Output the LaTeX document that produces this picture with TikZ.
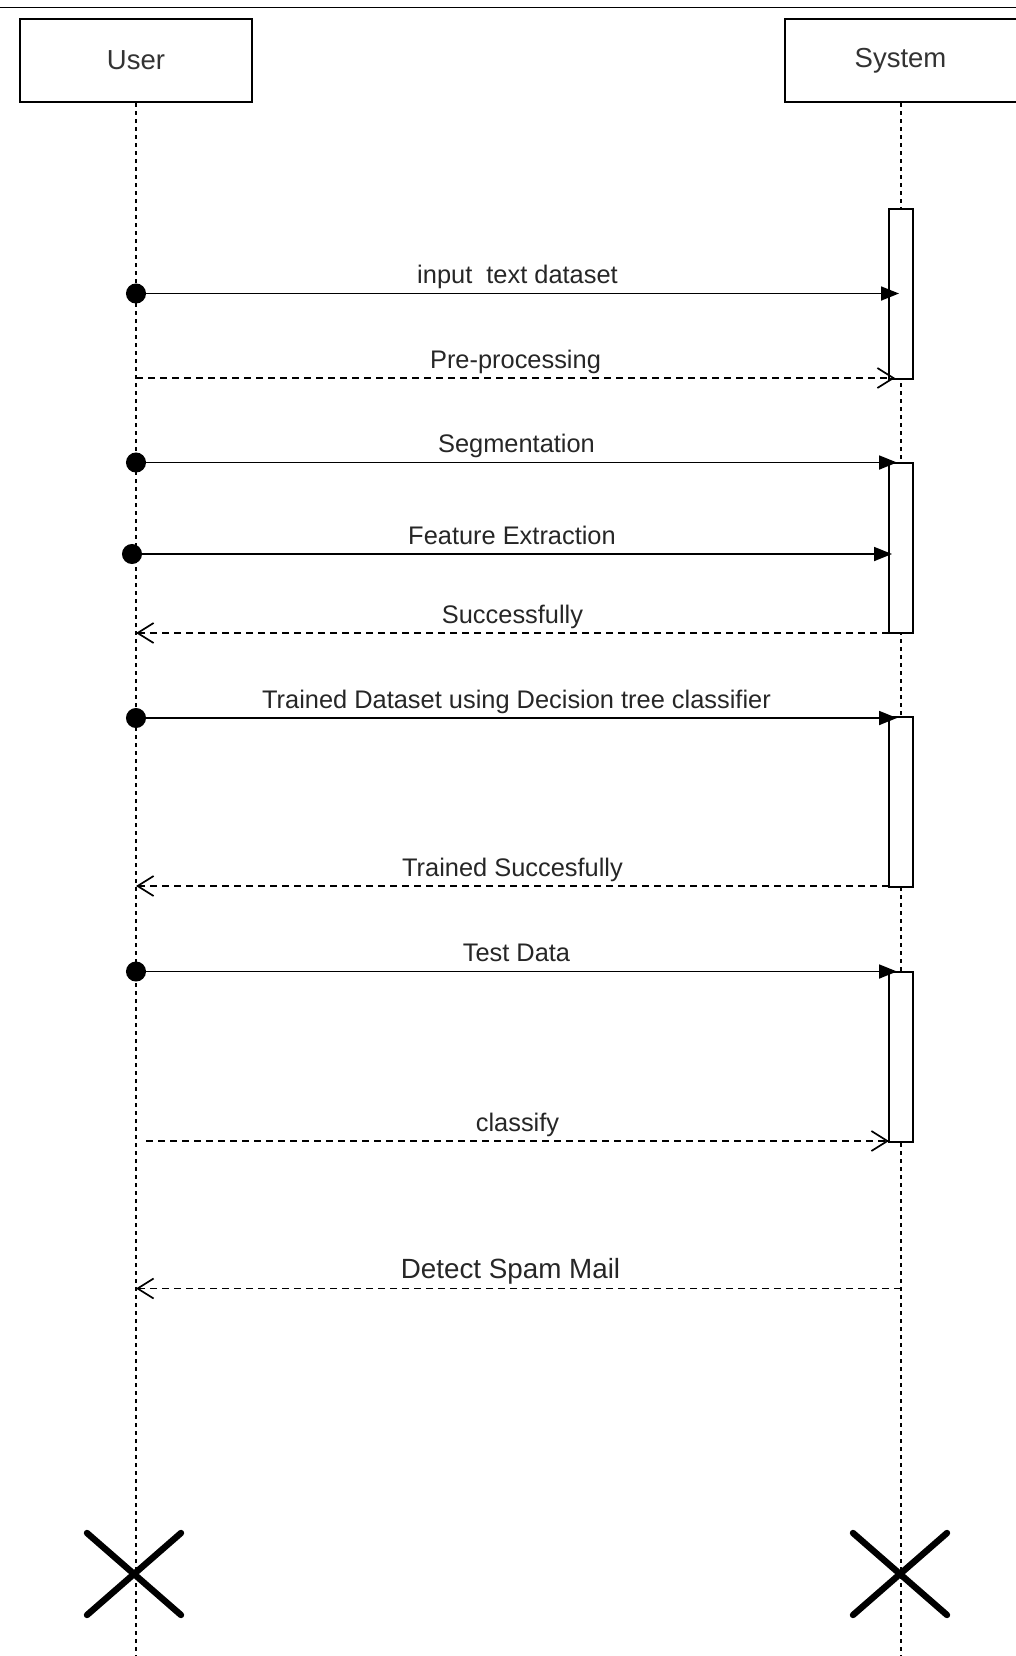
\documentclass[tikz,border=0pt]{standalone}
\usepackage{fontspec}
\setmainfont{Liberation Sans}
\usetikzlibrary{arrows.meta,positioning}

\begin{document}
\begin{tikzpicture}[x=0.5pt,y=-0.5pt]
      \tikzset{actor/.style={draw, line width=1pt, fill=white, minimum width=116pt, minimum height=41.5pt, inner sep=0pt, text=black!80, font=\fontsize{13.75}{16}\selectfont},
               life/.style={line width=0.85pt, dash pattern=on 2pt off 2pt},
               actbox/.style={draw, line width=1pt, fill=white, minimum width=12pt, minimum height=85pt, inner sep=0pt},
               call/.style={line width=0.9pt, {Circle[length=10pt]}-{Triangle[length=9pt,width=7pt]}, shorten <=-5pt},
               reply/.style={line width=0.85pt, dash pattern=on 3.5pt off 2.5pt, -{Straight Barb[length=8pt,width=10pt]}},
               msg/.style={text=black!85, font=\fontsize{12.7}{15}\selectfont, text height=9.2pt, text depth=2.7pt, inner sep=0pt, yshift=8.25pt},
               kill/.style={line width=3.2pt, line cap=round}}
      \useasboundingbox (0,0) rectangle (1016,1656);
      \draw[line width=0.9pt] (0,7.5) -- (1016,7.5);
      % lifelines
      \node[actor] (user) at (136,60.5) {User};
      \node[actor] (system) at (900.5,60.5) {System};
      \coordinate (uend) at (136,1656);
      \coordinate (send) at (901,1656);
      \draw[life] (user.south) -- (uend);
      \draw[life] (system.south -| send) -- (send);
      % activations
      \node[actbox] (act1) at (901,293.5) {};
      \node[actbox] (act2) at (901,548) {};
      \node[actbox] (act3) at (901,802) {};
      \node[actbox] (act4) at (901,1056.5) {};
      % messages
      \coordinate (u1) at (136,293.5);  \coordinate (s1) at (899,293.5);
      \coordinate (u2) at (136,378);    \coordinate (s2) at (895,378);
      \coordinate (u3) at (136,462.5);  \coordinate (s3) at (897,462.5);
      \coordinate (u4) at (132,554);    \coordinate (s4) at (892,554);
      \coordinate (u5) at (136,633);    \coordinate (s5) at (889,633);
      \coordinate (u6) at (136,718);    \coordinate (s6) at (897,718);
      \coordinate (u7) at (136,886);    \coordinate (s7) at (889,886);
      \coordinate (u8) at (136,971.5);  \coordinate (s8) at (897,971.5);
      \coordinate (u9) at (146,1141);   \coordinate (s9) at (889,1141);
      \coordinate (u10) at (136,1288.5); \coordinate (s10) at (901,1288.5);
      \draw[call] (u1) -- node[msg] {input~~text dataset} (s1);
      \draw[reply] (u2) -- node[msg] {Pre-processing} (s2);
      \draw[call] (u3) -- node[msg] {Segmentation} (s3);
      \draw[call] (u4) -- node[msg] {Feature Extraction} (s4);
      \draw[reply] (s5) -- node[msg] {Successfully} (u5);
      \draw[call] (u6) -- node[msg] {Trained Dataset using Decision tree classifier} (s6);
      \draw[reply] (s7) -- node[msg] {Trained Succesfully} (u7);
      \draw[call] (u8) -- node[msg] {Test Data} (s8);
      \draw[reply] (u9) -- node[msg] {classify} (s9);
      \draw[reply] (s10) -- node[msg, xshift=-4pt, font=\fontsize{13.9}{16}\selectfont] {Detect Spam Mail} (u10);
      % destroy marks
      \coordinate (ux) at (134,1574);
      \coordinate (sx) at (900,1574);
      \draw[kill] ([shift={(-47,-41)}]ux) -- ([shift={(47,41)}]ux) ([shift={(-47,41)}]ux) -- ([shift={(47,-41)}]ux);
      \draw[kill] ([shift={(-47,-41)}]sx) -- ([shift={(47,41)}]sx) ([shift={(-47,41)}]sx) -- ([shift={(47,-41)}]sx);
    \end{tikzpicture}
\end{document}
